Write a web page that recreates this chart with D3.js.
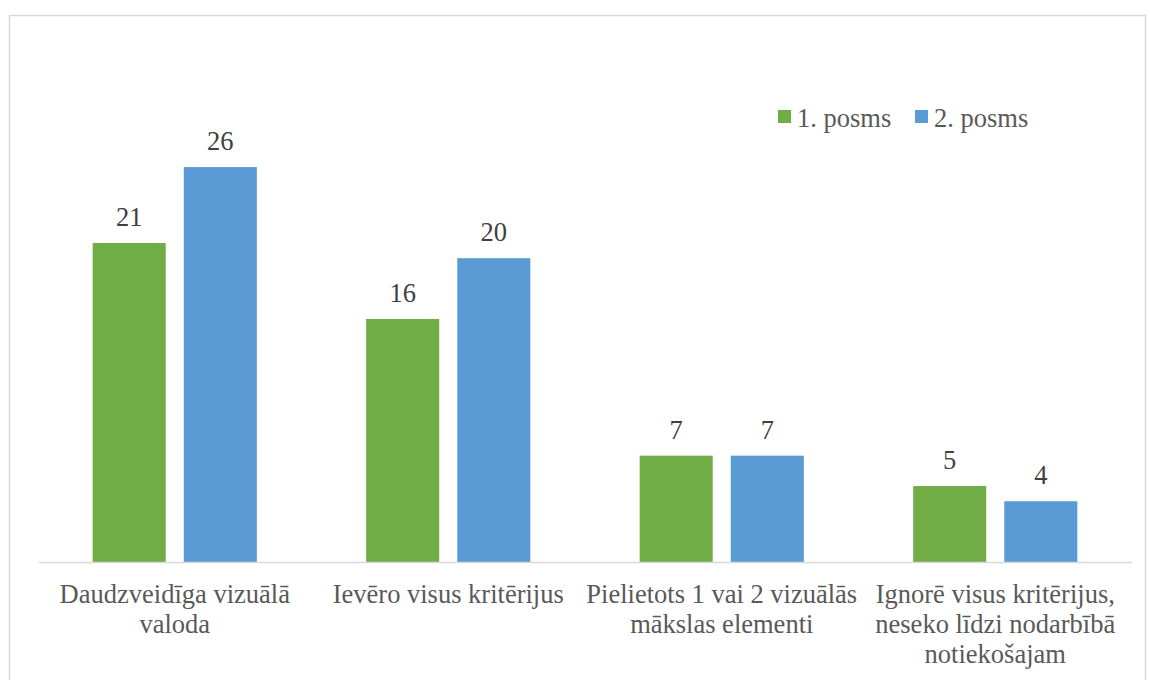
<!DOCTYPE html>
<html>
<head>
<meta charset="utf-8">
<script src="https://cdn.jsdelivr.net/npm/d3@7"></script>
<style>
  body { margin: 0; background: #fff; }
</style>
</head>
<body>
<div id="chart"></div>
<script>
const categories = [
    "Daudzveidīga vizuālā valoda",
    "Ievēro visus kritērijus",
    "Pielietots 1 vai 2 vizuālās mākslas elementi",
    "Ignorē visus kritērijus, neseko līdzi nodarbībā notiekošajam"
];
const seriesNames = ["1. posms", "2. posms"];
const stage1 = [21, 16, 7, 5];
const stage2 = [26, 20, 7, 4];
const colors = ["#70ad47", "#5b9bd5"];

const width = 1150, height = 680;
const margin = { left: 38, right: 18, top: 40, bottom: 118 };
const fontSize = 26.5;

const svg = d3.select("#chart").append("svg")
    .attr("width", width)
    .attr("height", height)
    .attr("font-family", "'Liberation Serif', 'Times New Roman', serif");

// chart frame
svg.append("rect")
    .attr("x", 9.5).attr("y", 15.5)
    .attr("width", 1136).attr("height", 700)
    .attr("fill", "none")
    .attr("stroke", "#d9d9d9")
    .attr("stroke-width", 1.5);

const x0 = d3.scaleBand()
    .domain(categories)
    .range([margin.left, width - margin.right])
    .paddingInner(0)
    .paddingOuter(0);

const x1 = d3.scaleBand()
    .domain(seriesNames)
    .range([0, x0.bandwidth()])
    .paddingInner(0.198)
    .paddingOuter(0.6);

const y = d3.scaleLinear()
    .domain([0, 30])
    .range([height - margin.bottom, height - margin.bottom - 30 * 15.19]);

const rows = categories.map((c, i) => ({ cat: c, values: [stage1[i], stage2[i]] }));

const groups = svg.append("g")
    .selectAll("g")
    .data(rows)
    .join("g")
    .attr("transform", d => `translate(${x0(d.cat)},0)`);

groups.selectAll("rect")
    .data(d => d.values.map((v, j) => ({ key: seriesNames[j], value: v, j })))
    .join("rect")
    .attr("x", d => x1(d.key))
    .attr("y", d => y(d.value))
    .attr("width", x1.bandwidth())
    .attr("height", d => y(0) - y(d.value))
    .attr("fill", d => colors[d.j]);

groups.selectAll("text.val")
    .data(d => d.values.map((v, j) => ({ key: seriesNames[j], value: v })))
    .join("text")
    .attr("class", "val")
    .attr("x", d => x1(d.key) + x1.bandwidth() / 2)
    .attr("y", d => y(d.value) - 17)
    .attr("text-anchor", "middle")
    .attr("font-size", fontSize)
    .attr("fill", "#404040")
    .text(d => d.value);

// baseline
const xAxis = svg.append("g")
    .attr("transform", `translate(0,${y(0)})`)
    .call(d3.axisBottom(x0).tickSize(0).tickFormat(""));
xAxis.select(".domain").attr("stroke", "#d9d9d9").attr("stroke-width", 1.5);

// category labels, wrapped
const labels = svg.append("g")
    .selectAll("text")
    .data(categories)
    .join("text")
    .attr("text-anchor", "middle")
    .attr("font-size", fontSize)
    .attr("fill", "#595959")
    .attr("x", d => x0(d) + x0.bandwidth() / 2)
    .attr("y", y(0) + 41);

labels.each(function (d) {
    const el = d3.select(this);
    const cx = +el.attr("x");
    const words = d.split(" ");
    let line = [];
    let tspan = el.append("tspan").attr("x", cx).attr("dy", 0);
    words.forEach(w => {
        line.push(w);
        tspan.text(line.join(" "));
        if (tspan.node().getComputedTextLength() > 280 && line.length > 1) {
            line.pop();
            tspan.text(line.join(" "));
            line = [w];
            tspan = el.append("tspan").attr("x", cx).attr("dy", 30).text(w);
        }
    });
});

// legend
const legend = svg.append("g")
    .attr("transform", "translate(778,110)");
const legendX = [0, 137];
seriesNames.forEach((s, i) => {
    const g = legend.append("g").attr("transform", `translate(${legendX[i]},0)`);
    g.append("rect")
        .attr("width", 13).attr("height", 13)
        .attr("fill", colors[i]);
    g.append("text")
        .attr("x", 19).attr("y", 17)
        .attr("font-size", fontSize)
        .attr("fill", "#595959")
        .text(s);
});
</script>
</body>
</html>
